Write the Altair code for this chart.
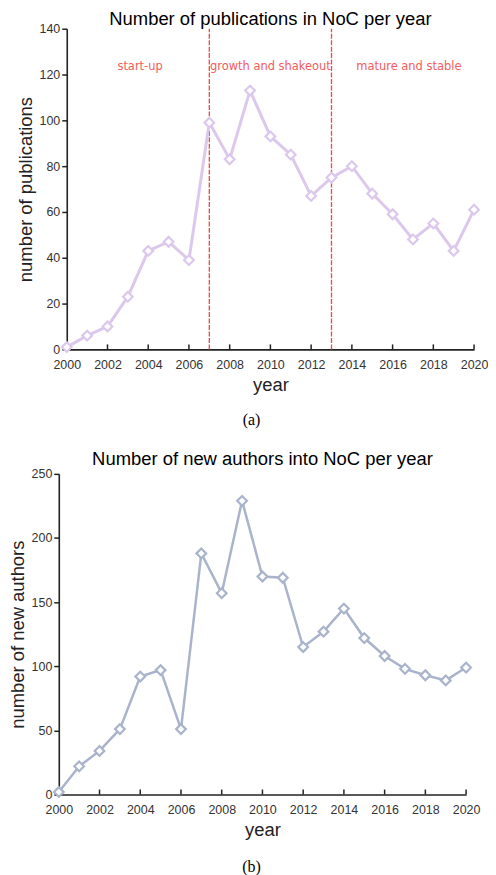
import altair as alt
import pandas as pd

years = list(range(2000, 2021))
publications = [1, 6, 10, 23, 43, 47, 39, 99, 83, 113, 93, 85, 67, 75, 80, 68, 59, 48, 55, 43, 61]
new_authors = [2, 22, 34, 51, 92, 97, 51, 188, 157, 229, 170, 169, 115, 127, 145, 122, 108, 98, 93, 89, 99]

phase_bounds = [2007, 2013]
phase_labels = ["start-up", "growth and shakeout", "mature and stable"]
phase_x = [2003.6, 2010.0, 2016.8]
phase_y = [123.5, 123.5, 123.5]

x_ticks = list(range(2000, 2021, 2))

W, H = 409, 322
SHIFT = 8  # top panel sits slightly to the right of the bottom one
FONT = "Liberation Sans"

df_a = pd.DataFrame({"year": years, "value": publications})
df_b = pd.DataFrame({"year": years, "value": new_authors})
df_bounds = pd.DataFrame({"year": phase_bounds, "lo": [0, 0], "hi": [140, 140]})
df_phase = pd.DataFrame({"year": phase_x, "y": phase_y, "label": phase_labels})
df_ticks = pd.DataFrame({"year": x_ticks})


def panel(df, color, ymax, yvals, ytitle, ytpad, title, lw, toff, shift=0, extra=None):
    if shift:
        xs = alt.Scale(domain=[2000, 2020], nice=False, zero=False, range=[shift, W + shift])
    else:
        xs = alt.Scale(domain=[2000, 2020], nice=False, zero=False)
    ys = alt.Scale(domain=[0, ymax], nice=False)
    xaxis = alt.Axis(values=x_ticks, format="d", tickSize=0, labelPadding=9,
                     labelOverlap=False, labelFlush=False, title="year",
                     titlePadding=5, titleFontSize=18.5)
    yaxis = alt.Axis(values=yvals, tickSize=5, labelPadding=2, title=ytitle,
                     titleFontSize=18.5, titlePadding=ytpad, labelOverlap=False,
                     offset=-shift)
    base = alt.Chart(df)
    line = base.mark_line(color=color, strokeWidth=lw).encode(
        x=alt.X("year:Q", scale=xs, axis=xaxis),
        y=alt.Y("value:Q", scale=ys, axis=yaxis),
    )
    pts = base.mark_point(shape="diamond", size=95, filled=True, fill="white",
                          stroke=color, strokeWidth=2.2, opacity=1).encode(
        x=alt.X("year:Q", scale=xs), y=alt.Y("value:Q", scale=ys)
    )
    ticks = alt.Chart(df_ticks).mark_rule(color="#222", strokeWidth=1.5).encode(
        x=alt.X("year:Q", scale=xs), y=alt.value(H), y2=alt.value(H - 5)
    )
    layers = [ticks]
    if extra is not None:
        layers += extra(xs, ys)
    layers += [line, pts]
    return alt.layer(*layers).properties(
        width=W + shift, height=H,
        title=alt.TitleParams(title, fontSize=18.5, font=FONT, fontWeight="normal",
                              color="#000", offset=toff, dx=shift / 2),
    )


def phases(xs, ys):
    rules = alt.Chart(df_bounds).mark_rule(color="#f04646", strokeWidth=1.3,
                                           strokeDash=[5, 1.5]).encode(
        x=alt.X("year:Q", scale=xs), y=alt.Y("lo:Q", scale=ys), y2="hi:Q"
    )
    txt = alt.Chart(df_phase).mark_text(color="#f25c5c", fontSize=11.5,
                                        font="DejaVu Sans").encode(
        x=alt.X("year:Q", scale=xs), y=alt.Y("y:Q", scale=ys), text="label:N"
    )
    return [rules, txt]


chart_a = panel(df_a, "#dcc8ec", 140, [0, 20, 40, 60, 80, 100, 120, 140],
                "number of publications", 3.5,
                "Number of publications in NoC per year", 3, -6, SHIFT, phases)
chart_b = panel(df_b, "#a9b3cb", 250, [0, 50, 100, 150, 200, 250],
                "number of new authors", 3.5,
                "Number of new authors into NoC per year", 2.5, -1)


def caption(t, h, dy):
    return alt.Chart(pd.DataFrame({"t": [t]})).mark_text(
        font="Liberation Serif", fontSize=16, color="#000", dy=dy, dx=-11
    ).encode(text="t:N").properties(width=W, height=h)


chart = alt.vconcat(
    chart_a, caption("(a)", 36, -2), chart_b, caption("(b)", 22, 7),
    spacing=10,
).configure(
    padding=0,
).configure_view(stroke=None).configure_axis(
    domainColor="#222", domainWidth=1.6, tickColor="#222", tickWidth=1.5,
    labelColor="#333", labelFont=FONT, labelFontSize=12.5,
    titleFont=FONT, titleFontWeight="normal", titleColor="#222", grid=False,
)

chart.save("out.html", embed_options={"renderer": "svg", "actions": False})
